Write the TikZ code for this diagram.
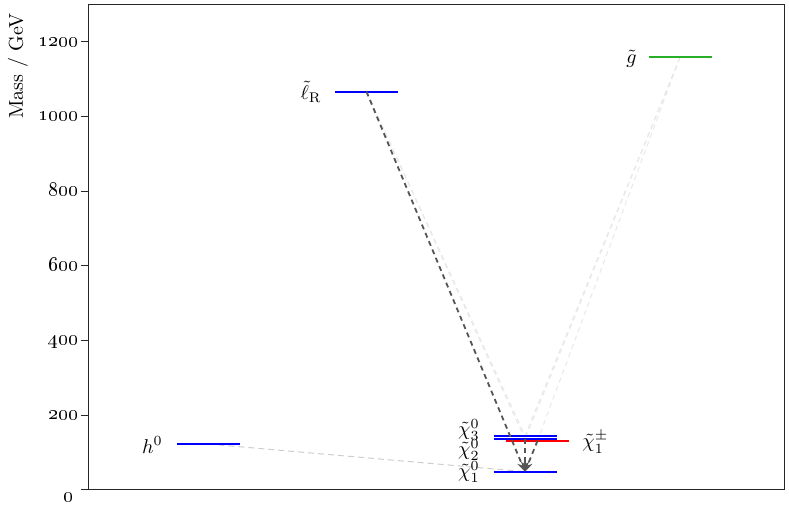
\documentclass[tikz,border=0pt]{standalone}
\usetikzlibrary{arrows.meta}
\definecolor{lvlgreen}{RGB}{40,175,40}
\definecolor{lvlblue}{RGB}{0,0,255}
\definecolor{darkdash}{RGB}{85,85,85}
\definecolor{faintdash}{RGB}{232,232,232}
\definecolor{hdash}{RGB}{205,205,205}
\begin{document}
\begin{tikzpicture}[x=0.5pt,y=-0.5pt,
  lvl/.style={inner sep=0pt,outer sep=0pt,minimum width=31.5pt,minimum height=0pt},
  bar/.style={line width=1pt},
  decay/.style={draw=darkdash,line width=0.9pt,dash pattern=on 2.5pt off 2pt,-{Stealth[length=5pt,width=4pt]}},
  faint/.style={draw=faintdash,line width=0.5pt,dash pattern=on 2.5pt off 2pt},
  hline/.style={draw=hdash,line width=0.5pt,dash pattern=on 3pt off 2pt},
  lab/.style={inner sep=0pt,font=\normalsize},
  ticklab/.style={inner sep=0pt,anchor=mid east}]
\useasboundingbox (0,0) rectangle (789,507);
% frame
\draw[line width=0.5pt,black!85] (88,4.5) rectangle (784,490);
% ticks
\foreach \v in {0,200,400,600,800,1000,1200}{
  \draw[line width=0.5pt,black!85] (81,{490-0.37333*\v}) -- (88,{490-0.37333*\v});
}
\foreach \v in {200,400,600,800,1000,1200}{
  \node[ticklab] (tick\v) at (79,{490-0.37333*\v}) {\oldstylenums{\v}};
}
\node[ticklab] (tick0) at (74,497) {\oldstylenums{0}};
\node[rotate=90,inner sep=0pt] (ylab) at (18,66) {Mass / GeV};
% levels
\node[lvl] (h) at (208.5,444) {};
\node[lvl] (lR) at (366.5,91.7) {};
\node[lvl] (g) at (680,57.3) {};
\node[lvl] (n3) at (525,435.8) {};
\node[lvl] (n2) at (525,439.3) {};
\node[lvl] (c1) at (537.5,440.8) {};
\node[lvl] (n1) at (525,471.7) {};
% faint connectors
\draw[hline] (h.center) -- (n1.center);
\draw[faint] (lR.center) -- (n3.center);
\draw[faint] (lR.center) -- (n2.center);
\draw[faint] (g.center) -- (n3.center);
\draw[faint] (g.center) -- (n2.center);
\draw[faint] (g.center) -- (c1.center);
% bars
\draw[bar,lvlblue] (h.west) -- (h.east);
\draw[bar,lvlblue] (lR.west) -- (lR.east);
\draw[bar,lvlgreen] (g.west) -- (g.east);
\draw[bar,lvlblue] (n3.west) -- (n3.east);
\draw[bar,lvlblue] (n2.west) -- (n2.east);
\draw[bar,red] (c1.west) -- (c1.east);
\draw[bar,lvlblue] (n1.west) -- (n1.east);
% dark decays
\draw[decay] (lR.center) -- (n1.center);
\draw[decay] (n2.center) -- (n1.center);
\draw[decay] (c1.center) -- (n1.center);
% labels
\node[lab,anchor=east] (hl) at (163,445) {$h^0$};
\node[lab,anchor=east] (lRl) at (322,92) {$\tilde\ell_{\mathrm{R}}$};
\node[lab,anchor=east] (gl) at (637,59) {$\tilde g$};
\node[lab,anchor=east] (n3l) at (480,430) {$\tilde\chi^0_3$};
\node[lab,anchor=east] (n2l) at (480,450) {$\tilde\chi^0_2$};
\node[lab,anchor=east] (n1l) at (480,472) {$\tilde\chi^0_1$};
\node[lab,anchor=west] (c1l) at (582,442) {$\tilde\chi^\pm_1$};
\end{tikzpicture}
\end{document}
